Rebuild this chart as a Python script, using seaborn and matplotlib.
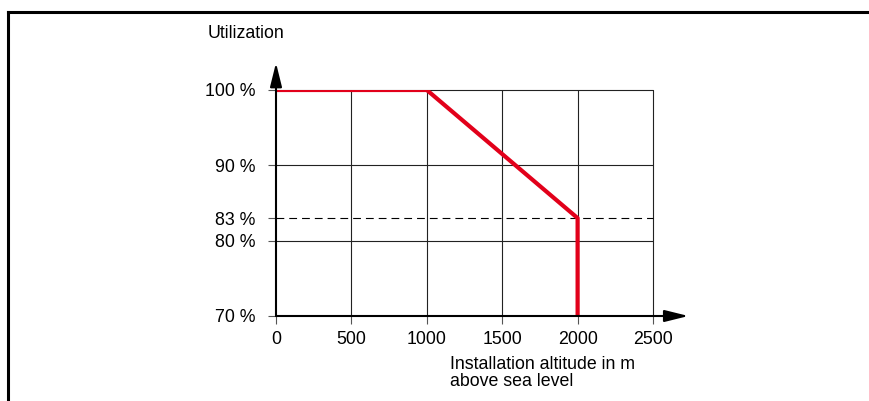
import matplotlib
matplotlib.use("Agg")
import matplotlib.pyplot as plt
import seaborn as sns
import pandas as pd
from matplotlib.lines import Line2D

# Data
altitude = [0, 1000, 2000, 2000]
utilization = [100, 100, 83, 70]
x_ticks = [0, 500, 1000, 1500, 2000, 2500]
y_ticks = [70, 80, 83, 90, 100]
y_tick_labels = ["70 %", "80 %", "83 %", "90 %", "100 %"]
grid_y = [80, 90, 100]
grid_x = [500, 1000, 1500, 2000, 2500]
dashed_level = 83

sns.set_style("white")
plt.rcParams['font.family'] = ['Liberation Sans', 'DejaVu Sans']
plt.rcParams['text.color'] = 'black'

W, H = 869, 401
FS = 12.8
fig = plt.figure(figsize=(W / 100, H / 100), dpi=100)
ax = fig.add_axes([276 / W, 1 - 316 / H, (653 - 276) / W, (316 - 90) / H])

# grid
for gx in grid_x:
    ax.plot([gx, gx], [70, 100], color="#222222", lw=0.8, zorder=1, clip_on=False)
for gy in grid_y:
    ax.plot([0, 2500], [gy, gy], color="#222222", lw=0.8, zorder=1, clip_on=False)
ax.plot([0, 2500], [dashed_level, dashed_level], color="black", lw=0.8,
        dashes=(7, 4.5), zorder=1, clip_on=False)

df = pd.DataFrame({"altitude": altitude, "utilization": utilization})
sns.lineplot(data=df, x="altitude", y="utilization", sort=False, estimator=None,
             ax=ax, color="#e2001a", lw=3, zorder=3)

ax.set_xlim(0, 2500)
ax.set_ylim(70, 100)
for s in ax.spines.values():
    s.set_visible(False)

# axes with arrows
ax.annotate("", xy=(2735, 70), xytext=(0, 70), annotation_clip=False,
            arrowprops=dict(arrowstyle="-|>,head_length=1.45,head_width=0.36",
                            lw=1.5, color="black", shrinkA=0, shrinkB=0,
                            mutation_scale=10), zorder=4)
ax.annotate("", xy=(0, 103.6), xytext=(0, 70), annotation_clip=False,
            arrowprops=dict(arrowstyle="-|>,head_length=1.45,head_width=0.36",
                            lw=1.5, color="black", shrinkA=0, shrinkB=0,
                            mutation_scale=10), zorder=4)

ax.set_xticks(x_ticks)
ax.set_xticklabels([str(v) for v in x_ticks])
ax.set_yticks(y_ticks)
ax.set_yticklabels(y_tick_labels)
ax.tick_params(axis="both", which="both", length=6, width=0.8, color="#555555",
               labelsize=FS, labelcolor="black", bottom=True, left=True)
ax.tick_params(axis="y", pad=9)
ax.tick_params(axis="x", pad=5)
ax.set_xlabel("")
ax.set_ylabel("")

fig.text(208 / W, 1 - 33 / H, "Utilization", fontsize=FS, ha="left", va="center",
         color="black")
fig.text(450 / W, 1 - 373 / H, "Installation altitude in m\nabove sea level",
         fontsize=FS, ha="left", va="center", linespacing=0.95, color="black")

# frame
fig.add_artist(Line2D([8 / W, 1.0], [1 - 12 / H, 1 - 12 / H], color="black",
                      lw=2.2, transform=fig.transFigure, solid_capstyle="projecting"))
fig.add_artist(Line2D([8 / W, 8 / W], [1 - 12 / H, 0], color="black",
                      lw=2.2, transform=fig.transFigure, solid_capstyle="projecting"))

fig.savefig("out.png", dpi=100)
